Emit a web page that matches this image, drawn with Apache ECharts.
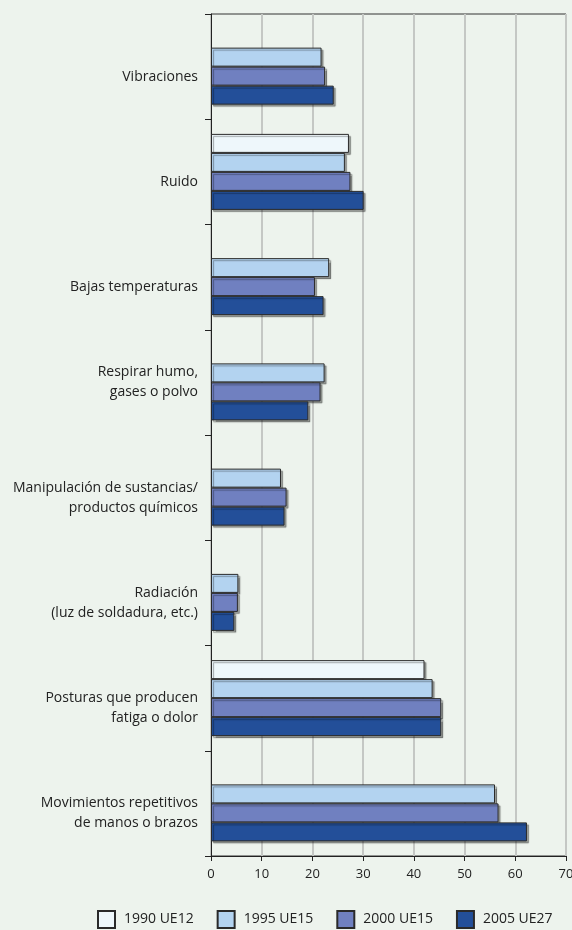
<!DOCTYPE html>
<html>
<head>
<meta charset="utf-8">
<script src="https://cdn.jsdelivr.net/npm/echarts@6/dist/echarts.min.js"></script>
<style>
  html, body { margin: 0; padding: 0; background: #edf3ed; }
  #main { width: 572px; height: 930px; }
</style>
</head>
<body>
<div id="main"></div>
<script>
// categorías (de arriba abajo)
var categorias = [
  'Vibraciones',
  'Ruido',
  'Bajas temperaturas',
  'Respirar humo,\ngases o polvo',
  'Manipulación de sustancias/\nproductos químicos',
  'Radiación\n(luz de soldadura, etc.)',
  'Posturas que producen\nfatiga o dolor',
  'Movimientos repetitivos\nde manos o brazos'
];
var v1990 = [null, 27.2, null, null, null, null, 42.1, null];
var v1995 = [21.8, 26.4, 23.3, 22.4, 13.8, 5.4, 43.7, 56.0];
var v2000 = [22.5, 27.5, 20.5, 21.6, 14.9, 5.3, 45.4, 56.7];
var v2005 = [24.2, 30.1, 22.2, 19.2, 14.5, 4.6, 45.4, 62.3];
var xTicks = [0, 10, 20, 30, 40, 50, 60, 70];

var nombres = ['1990 UE12', '1995 UE15', '2000 UE15', '2005 UE27'];
var colores = ['#eef7fb', '#b3d3f0', '#7080c0', '#234f99'];
var valores = [v1990, v1995, v2000, v2005];

var myChart = echarts.init(document.getElementById('main'));

var series = nombres.map(function (n, i) {
  return {
    name: n,
    type: 'bar',
    data: valores[i],
    barWidth: 19,
    barGap: '0%',
    itemStyle: {
      color: colores[i],
      borderColor: '#2a2a2a',
      borderWidth: 1,
      shadowColor: 'rgba(0,0,0,0.35)',
      shadowOffsetX: 2,
      shadowOffsetY: 2,
      shadowBlur: 1
    }
  };
});

// en el original las etiquetas quedan ~10px por debajo del centro (salvo "Respirar...")
// se añade una línea vacía arriba para bajarlas
function etiqueta(value, idx) {
  var txt = value.split('\n').map(function (l) { return '{a|' + l + '}'; }).join('\n');
  if (idx !== 3) txt = '{s|\u00a0}\n' + txt;
  return txt;
}

myChart.setOption({
  backgroundColor: '#edf3ed',
  textStyle: { fontFamily: 'Open Sans', color: '#222' },
  grid: {
    left: 211, right: 6, top: 14, bottom: 74,
    outerBoundsMode: 'none',
    show: true, borderColor: '#333', borderWidth: 1
  },
  legend: {
    data: nombres,
    bottom: 1,
    left: 97,
    padding: 0,
    icon: 'rect',
    itemWidth: 17,
    itemHeight: 17,
    itemGap: 23,
    textStyle: { fontSize: 14, color: '#222', fontFamily: 'Open Sans', padding: [0, 0, 0, 4] }
  },
  xAxis: {
    type: 'value',
    min: xTicks[0],
    max: xTicks[xTicks.length - 1],
    interval: 10,
    axisLine: { show: true, lineStyle: { color: '#222' } },
    axisTick: { show: true, length: 5, lineStyle: { color: '#222' } },
    axisLabel: { fontSize: 13, color: '#222', margin: 12 },
    splitLine: { show: true, lineStyle: { color: '#c4c7c4', width: 2 } }
  },
  yAxis: {
    type: 'category',
    data: categorias,
    inverse: true,
    axisLine: { show: true, lineStyle: { color: '#222' } },
    axisTick: { show: true, length: 6, lineStyle: { color: '#222' } },
    axisLabel: {
      color: '#222', margin: 13, align: 'right',
      formatter: etiqueta,
      rich: {
        a: { fontSize: 14, lineHeight: 20, color: '#222', fontFamily: 'Open Sans', align: 'right' },
        s: { fontSize: 14, lineHeight: 20, align: 'right' }
      }
    }
  },
  series: series
});
</script>
</body>
</html>
